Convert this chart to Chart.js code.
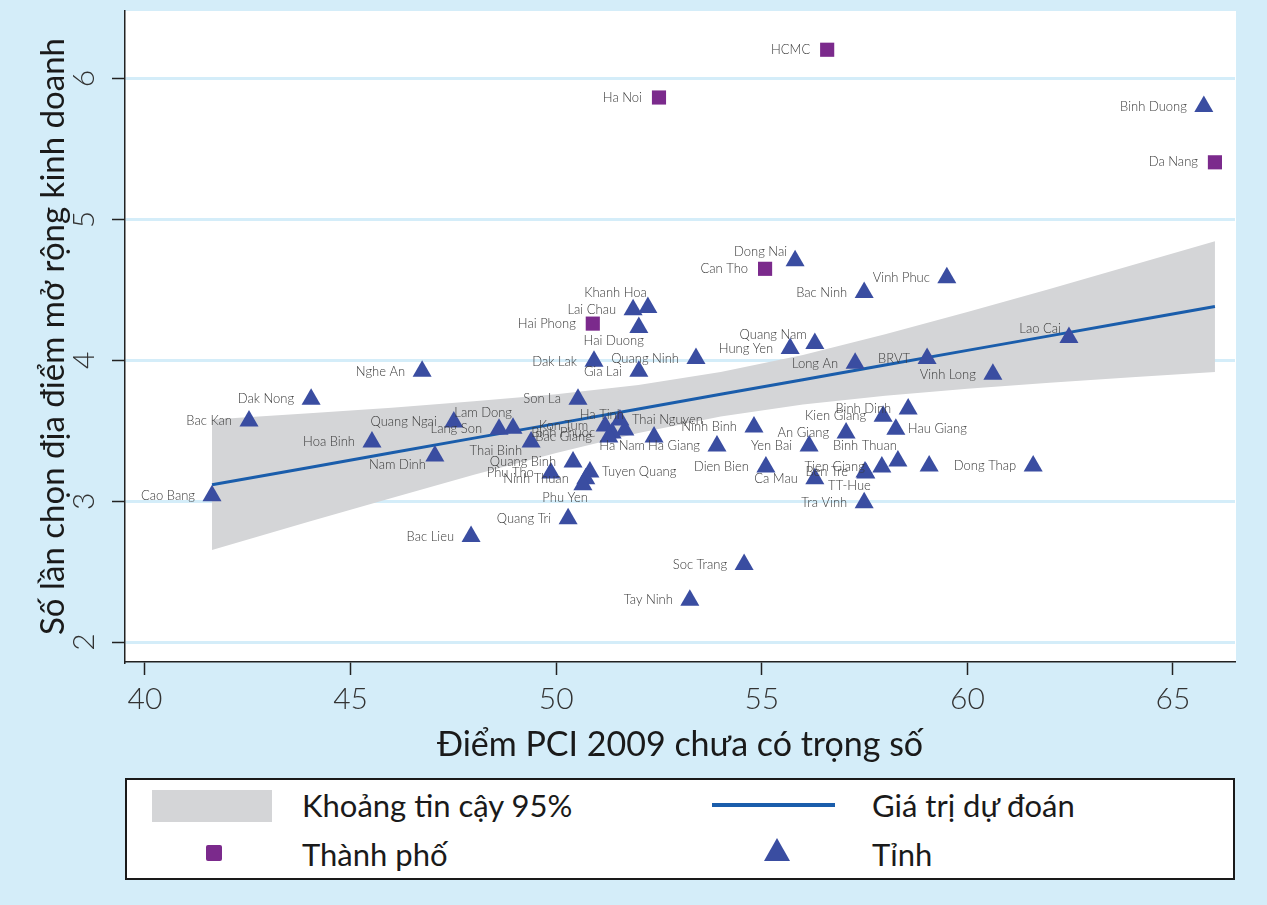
<!DOCTYPE html>
<html>
<head>
<meta charset="utf-8">
<script src="https://cdn.jsdelivr.net/npm/chart.js@4.4.1/dist/chart.umd.min.js"></script>
<style>
  html, body { margin: 0; padding: 0; background: #d4edf9; }
  body { width: 1267px; height: 905px; position: relative; overflow: hidden; font-family: Lato, "Open Sans", sans-serif; }
  #wrap { position: absolute; left: 0; top: 0; width: 1267px; height: 770px; }
  #legend { position: absolute; left: 125px; top: 778px; width: 1110px; height: 102px; box-sizing: border-box;
            border: 2px solid #1a1a1a; background: #fff; color: #1a1a1a; font-size: 31px; }
  #legend .txt { position: absolute; line-height: 36px; white-space: nowrap; }
  #legend .band { position: absolute; left: 25px; top: 10px; width: 120px; height: 32px; background: #d4d5d7; }
  #legend .line { position: absolute; left: 585px; top: 23px; width: 123px; height: 4px; background: #1a5dab; }
  #legend .sq { position: absolute; left: 79px; top: 65px; width: 16px; height: 16px; background: #7b2a8c; border-radius: 2px; }
  #legend .tri { position: absolute; left: 637px; top: 58px; width: 0; height: 0;
                 border-left: 13px solid transparent; border-right: 13px solid transparent; border-bottom: 23px solid #3a4da1; }
</style>
</head>
<body>
<div id="wrap"><canvas id="chart" width="1267" height="770"></canvas></div>
<div id="legend">
  <div class="band"></div><div class="txt" style="left:175px;top:7px">Khoảng tin cậy 95%</div>
  <div class="line"></div><div class="txt" style="left:745px;top:7px">Giá trị dự đoán</div>
  <div class="sq"></div><div class="txt" style="left:175px;top:56px">Thành phố</div>
  <div class="tri"></div><div class="txt" style="left:745px;top:56px">Tỉnh</div>
</div>
<script>
// axis ticks
const xTicks = [40, 45, 50, 55, 60, 65];
const yTicks = [2, 3, 4, 5, 6];

// cities (Thành phố)
const cityNames  = ["HCMC", "Ha Noi", "Da Nang", "Can Tho", "Hai Phong"];
const cityPCI    = [56.59, 52.50, 66.02, 55.08, 50.89];
const cityExpand = [6.205, 5.866, 5.406, 4.650, 4.261];

// provinces (Tỉnh)
const provNames = [
  "Binh Duong", "Dong Nai", "Vinh Phuc", "Bac Ninh", "Khanh Hoa", "Lai Chau", "Hai Duong", "Quang Ninh",
  "Dak Lak", "Gia Lai", "Nghe An", "Dak Nong", "Bac Kan", "Son La", "Quang Ngai", "Lang Son",
  "Lam Dong", "Hoa Binh", "Thai Binh", "Nam Dinh", "Cao Bang", "Bac Lieu", "Quang Binh", "Phu Tho",
  "Tuyen Quang", "Ninh Thuan", "Phu Yen", "Quang Tri", "Tay Ninh", "Soc Trang", "Kon Tum", "Ha Tinh",
  "Thai Nguyen", "Binh Phuoc", "Bac Giang", "Ha Nam", "Ha Giang", "Ninh Binh", "Dien Bien", "Yen Bai",
  "Ca Mau", "An Giang", "Kien Giang", "Binh Dinh", "Hau Giang", "Binh Thuan", "Tien Giang", "Ben Tre",
  "TT-Hue", "Tra Vinh", "Dong Thap", "Vinh Long", "BRVT", "Long An", "Lao Cai", "Quang Nam",
  "Hung Yen", "Thanh Hoa"
];
const provPCI = [
  65.75, 55.81, 59.50, 57.49, 52.23, 51.87, 52.01, 53.40,
  50.92, 52.01, 46.74, 44.04, 42.53, 50.53, 47.51, 48.61,
  48.95, 45.52, 49.39, 47.05, 41.63, 47.93, 50.41, 49.87,
  50.82, 50.72, 50.65, 50.29, 53.25, 54.57, 51.19, 51.67,
  51.55, 51.36, 51.28, 52.38, 53.91, 54.81, 55.10, 56.15,
  56.29, 57.05, 57.95, 58.56, 58.26, 58.31, 57.92, 57.51,
  57.53, 57.49, 61.60, 60.62, 59.02, 57.27, 62.47, 56.29,
  55.69, 59.07
];
const provExpand = [
  5.802, 4.707, 4.587, 4.481, 4.375, 4.360, 4.233, 4.014,
  3.993, 3.922, 3.922, 3.724, 3.569, 3.724, 3.562, 3.512,
  3.519, 3.420, 3.420, 3.322, 3.039, 2.749, 3.279, 3.201,
  3.208, 3.159, 3.117, 2.876, 2.297, 2.551, 3.534, 3.505,
  3.576, 3.484, 3.456, 3.456, 3.392, 3.527, 3.244, 3.392,
  3.159, 3.484, 3.604, 3.654, 3.512, 3.286, 3.244, 3.208,
  3.201, 2.989, 3.251, 3.901, 4.014, 3.979, 4.163, 4.120,
  4.085, 3.251
];

// fitted line and 95% band
const fitPCI   = [41.63, 44, 46, 48, 50, 52, 54, 56, 58, 60, 62, 64, 66.02];
const fitValue = [3.117, 3.240, 3.344, 3.448, 3.551, 3.655, 3.759, 3.863, 3.967, 4.071, 4.174, 4.278, 4.382];
const ciLow    = [2.654, 2.856, 3.024, 3.188, 3.343, 3.485, 3.601, 3.687, 3.749, 3.799, 3.841, 3.881, 3.918];
const ciHigh   = [3.580, 3.624, 3.664, 3.709, 3.759, 3.825, 3.917, 4.039, 4.185, 4.343, 4.507, 4.675, 4.846];

// marker label placement (clock position, default 9)
const labelClock = {
  "Khanh Hoa": 11, "Lam Dong": 11, "Ha Tinh": 11, "Binh Thuan": 11,
  "Lao Cai": 10, "Quang Nam": 10, "Dong Nai": 10,
  "Hai Duong": 7, "Phu Yen": 7, "TT-Hue": 7,
  "Thai Binh": 8, "Nam Dinh": 8, "Ha Nam": 8,
  "Tuyen Quang": 3, "Hau Giang": 3, "Thai Nguyen": 3,
  "Thanh Hoa": 0
};
const clockOffsets = {
  9:  { dx: -17, dy: 0,   align: "right" },
  3:  { dx: 12,  dy: 0,   align: "left" },
  10: { dx: -8,  dy: -9,  align: "right" },
  11: { dx: -1,  dy: -15, align: "right" },
  8:  { dx: -9,  dy: 9,   align: "right" },
  7:  { dx: 5,   dy: 13,  align: "right" }
};

const toXY = (xs, ys) => xs.map((x, i) => ({ x: x, y: ys[i] }));

const plotBackground = {
  id: "plotBackground",
  beforeDraw(chart) {
    const { ctx, chartArea: a } = chart;
    ctx.save();
    ctx.fillStyle = "#ffffff";
    ctx.fillRect(a.left, a.top, a.right - a.left + 1, a.bottom - a.top);
    ctx.restore();
  }
};

// y tick labels rotated like the original (reading bottom to top)
const rotatedYLabels = {
  id: "rotatedYLabels",
  afterDraw(chart) {
    const ctx = chart.ctx;
    const ys = chart.scales.y;
    ctx.save();
    ctx.font = "300 30px Lato, sans-serif";
    ctx.fillStyle = "#333";
    ctx.textAlign = "center";
    ctx.textBaseline = "middle";
    yTicks.forEach(v => {
      ctx.save();
      ctx.translate(ys.right - 41, ys.getPixelForValue(v));
      ctx.rotate(-Math.PI / 2);
      ctx.fillText(String(v), 0, 0);
      ctx.restore();
    });
    ctx.restore();
  }
};

const pointNames = {
  id: "pointNames",
  afterDatasetsDraw(chart) {
    const ctx = chart.ctx;
    ctx.save();
    ctx.font = "300 13px Lato, sans-serif";
    ctx.fillStyle = "#3a3a3a";
    ctx.textBaseline = "middle";
    chart.data.datasets.forEach((ds, di) => {
      if (!ds.names) return;
      chart.getDatasetMeta(di).data.forEach((el, i) => {
        const name = ds.names[i];
        const clock = labelClock[name] === undefined ? 9 : labelClock[name];
        const off = clockOffsets[clock];
        if (!off) return;
        ctx.textAlign = off.align;
        ctx.fillText(name, el.x + off.dx, el.y + off.dy);
      });
    });
    ctx.restore();
  }
};

new Chart(document.getElementById("chart"), {
  type: "scatter",
  data: {
    datasets: [
      {
        label: "Thành phố",
        names: cityNames,
        data: toXY(cityPCI, cityExpand),
        pointStyle: "rect",
        pointRadius: 10,
        backgroundColor: "#7b2a8c",
        borderColor: "#7b2a8c",
        borderWidth: 0,
        order: 0
      },
      {
        label: "Tỉnh",
        names: provNames,
        data: toXY(provPCI, provExpand),
        pointStyle: "triangle",
        pointRadius: 11,
        backgroundColor: "#3a4da1",
        borderColor: "#3a4da1",
        borderWidth: 0,
        order: 0
      },
      {
        type: "line",
        label: "Giá trị dự đoán",
        data: toXY(fitPCI, fitValue),
        borderColor: "#1a5dab",
        borderWidth: 3,
        pointRadius: 0,
        fill: false,
        order: 1
      },
      {
        type: "line",
        label: "ciLow",
        data: toXY(fitPCI, ciLow),
        borderWidth: 0,
        borderColor: "rgba(0,0,0,0)",
        pointRadius: 0,
        fill: false,
        order: 2
      },
      {
        type: "line",
        label: "Khoảng tin cậy 95%",
        data: toXY(fitPCI, ciHigh),
        borderWidth: 0,
        borderColor: "rgba(0,0,0,0)",
        backgroundColor: "#d4d5d7",
        pointRadius: 0,
        fill: "-1",
        order: 2
      }
    ]
  },
  options: {
    responsive: false,
    animation: false,
    devicePixelRatio: 1,
    layout: { padding: { top: 6, right: 32, left: 0, bottom: 0 } },
    plugins: {
      legend: { display: false },
      tooltip: { enabled: false }
    },
    scales: {
      x: {
        type: "linear",
        min: 39.514,
        max: 66.508,
        afterBuildTicks: (s) => { s.ticks = xTicks.map(v => ({ value: v })); },
        afterFit: (s) => { s.height = 108; s.paddingLeft = 0; s.paddingRight = 0; },
        grid: { drawOnChartArea: false, tickLength: 13, tickColor: "#222", tickWidth: 1.5 },
        border: { display: true, color: "#222", width: 1.5 },
        ticks: { font: { family: "Lato", size: 30, weight: "300" }, color: "#333", padding: 6 },
        title: {
          display: true,
          text: "Điểm PCI 2009 chưa có trọng số",
          font: { family: "Lato", size: 34 },
          color: "#1a1a1a",
          padding: { top: 0, bottom: 5 }
        }
      },
      y: {
        type: "linear",
        min: 1.859,
        max: 6.48,
        afterBuildTicks: (s) => { s.ticks = yTicks.map(v => ({ value: v })); },
        afterFit: (s) => { s.width = 125; s.paddingTop = 0; s.paddingBottom = 0; },
        grid: { color: "#d4edf9", lineWidth: 3, tickLength: 13, tickColor: "#222", tickWidth: 1.5 },
        border: { display: true, color: "#222", width: 1.5 },
        ticks: { display: false },
        title: {
          display: true,
          text: "Số lần chọn địa điểm mở rộng kinh doanh",
          font: { family: "Lato", size: 33 },
          color: "#1a1a1a",
          padding: { top: 34, bottom: 0 }
        }
      }
    }
  },
  plugins: [plotBackground, pointNames, rotatedYLabels]
});
</script>
</body>
</html>
